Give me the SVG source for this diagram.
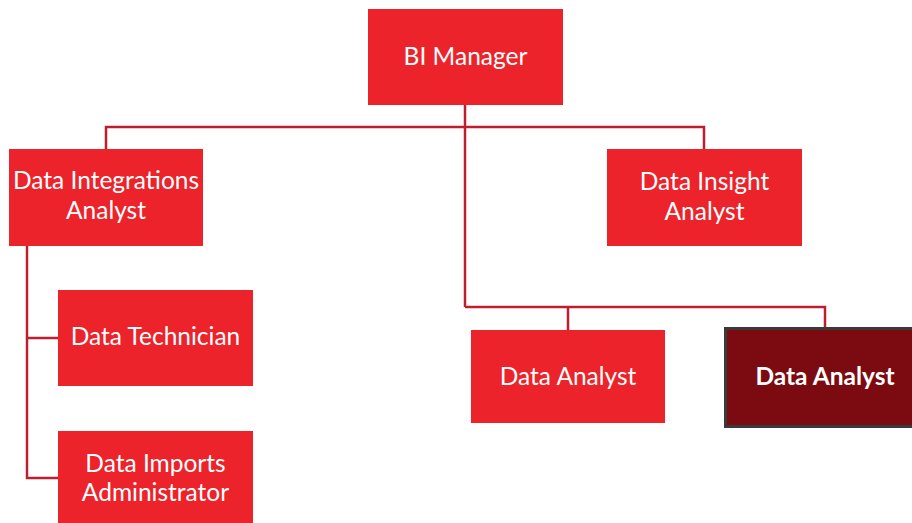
<svg xmlns="http://www.w3.org/2000/svg" width="912" height="523" viewBox="0 0 912 523">
<style>
.box{fill:#EC232A;}
.dark{fill:#7B0B10;stroke:#3a3a3a;stroke-width:3;}
.t{font-family:Lato,"Open Sans",sans-serif;font-size:24.5px;fill:#ffffff;text-anchor:middle;}
.b{font-weight:bold;}
.c{fill:none;stroke:#BE1E2D;stroke-width:2.5;}
</style>
<rect width="912" height="523" fill="#ffffff"/>
<g id="connectors">
<path class="c" d="M465,105 V307 M106,149 V127 H704 V149 M465,307 H825 V327 M568,307 V330 M27,246 V478 H58 M27,338 H58"/>
</g>
<g id="bi-manager">
<rect class="box" x="368" y="9" width="195" height="96"/>
<text class="t" x="465.5" y="65">BI Manager</text>
</g>
<g id="data-integrations-analyst">
<rect class="box" x="9" y="149" width="194" height="97"/>
<text class="t" x="106" y="189">Data Integrations</text>
<text class="t" x="106" y="219">Analyst</text>
</g>
<g id="data-insight-analyst">
<rect class="box" x="607" y="149" width="195" height="97"/>
<text class="t" x="704.5" y="190">Data Insight</text>
<text class="t" x="704.5" y="220">Analyst</text>
</g>
<g id="data-technician">
<rect class="box" x="58" y="290" width="195" height="96"/>
<text class="t" x="155.5" y="345">Data Technician</text>
</g>
<g id="data-imports-administrator">
<rect class="box" x="58" y="431" width="195" height="96"/>
<text class="t" x="155.5" y="472">Data Imports</text>
<text class="t" x="155.5" y="501">Administrator</text>
</g>
<g id="data-analyst-1">
<rect class="box" x="471" y="330" width="194" height="93"/>
<text class="t" x="568" y="385">Data Analyst</text>
</g>
<g id="data-analyst-2">
<rect class="dark" x="725.5" y="328.5" width="195" height="98"/>
<text class="t b" x="825" y="385">Data Analyst</text>
</g>
</svg>
